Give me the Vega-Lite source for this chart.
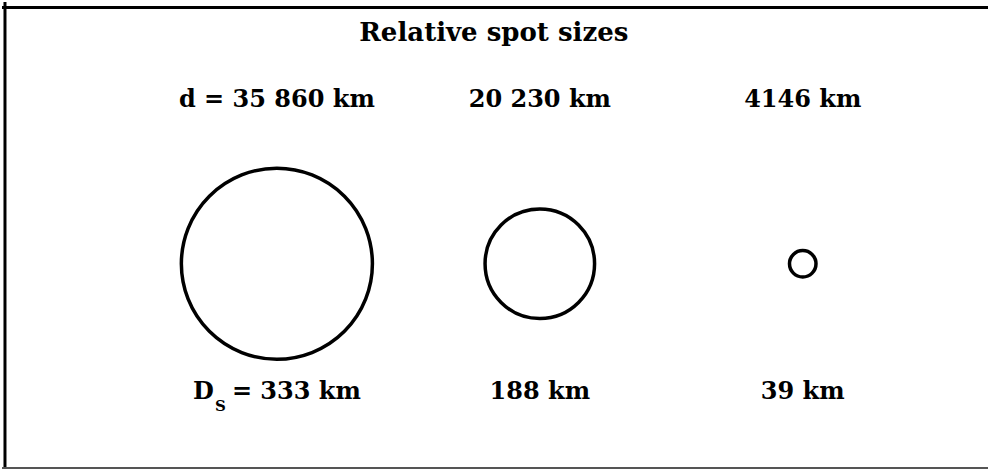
{
  "$schema": "https://vega.github.io/schema/vega-lite/v6.json",
  "width": 990,
  "height": 471,
  "autosize": {"type": "fit", "contains": "padding"},
  "padding": 0,
  "background": "white",
  "config": {"view": {"stroke": null}},
  "data": {
    "values": [
      {"spot": 1, "d": "d = 35 860 km", "Ds": 333, "lab": "= 333 km", "sym": "D", "sub": "S", "title": ""},
      {"spot": 2, "d": "20 230 km", "Ds": 188, "lab": "188 km", "sym": "", "sub": "", "title": "Relative spot sizes"},
      {"spot": 3, "d": "4146 km", "Ds": 39, "lab": "39 km", "sym": "", "sub": "", "title": ""}
    ]
  },
  "encoding": {
    "x": {"field": "spot", "type": "quantitative", "scale": {"domain": [-0.04545, 3.70455], "nice": false, "zero": false}, "axis": null},
    "y": {"datum": 264, "type": "quantitative", "scale": {"domain": [0, 471], "reverse": true, "nice": false, "zero": false}, "axis": null}
  },
  "layer": [
    {
      "mark": {"type": "point", "shape": "circle", "filled": false, "stroke": "black", "strokeWidth": 3.5, "opacity": 1},
      "encoding": {
        "size": {"field": "Ds", "type": "quantitative", "scale": {"domain": [39, 188, 333], "range": [702, 11990, 36500]}, "legend": null}
      }
    },
    {
      "mark": {"type": "text", "font": "DejaVu Serif", "fontSize": 24, "fontWeight": "bold", "color": "black", "baseline": "alphabetic", "align": "center"},
      "encoding": {"y": {"datum": 106, "type": "quantitative"}, "text": {"field": "d"}}
    },
    {
      "transform": [{"filter": "datum.spot > 1"}],
      "mark": {"type": "text", "font": "DejaVu Serif", "fontSize": 24, "fontWeight": "bold", "color": "black", "baseline": "alphabetic", "align": "center"},
      "encoding": {"y": {"datum": 400, "type": "quantitative"}, "text": {"field": "lab"}}
    },
    {
      "transform": [{"filter": "datum.spot == 1"}],
      "mark": {"type": "text", "font": "DejaVu Serif", "fontSize": 24, "fontWeight": "bold", "color": "black", "baseline": "alphabetic", "align": "left", "dx": -45},
      "encoding": {"y": {"datum": 400, "type": "quantitative"}, "text": {"field": "lab"}}
    },
    {
      "transform": [{"filter": "datum.spot == 1"}],
      "mark": {"type": "text", "font": "DejaVu Serif", "fontSize": 24, "fontWeight": "bold", "color": "black", "baseline": "alphabetic", "align": "left", "dx": -84},
      "encoding": {"y": {"datum": 400, "type": "quantitative"}, "text": {"field": "sym"}}
    },
    {
      "transform": [{"filter": "datum.spot == 1"}],
      "mark": {"type": "text", "font": "DejaVu Serif", "fontSize": 15, "fontWeight": "bold", "color": "black", "baseline": "alphabetic", "align": "left", "dx": -62},
      "encoding": {"y": {"datum": 413, "type": "quantitative"}, "text": {"field": "sub"}}
    },
    {
      "transform": [{"filter": "datum.spot == 2"}],
      "mark": {"type": "text", "font": "DejaVu Serif", "fontSize": 26, "fontWeight": "bold", "color": "black", "baseline": "alphabetic", "align": "center", "dx": -46},
      "encoding": {"y": {"datum": 39, "type": "quantitative"}, "text": {"field": "title"}}
    },
    {
      "transform": [{"filter": "datum.spot == 1"}],
      "mark": {"type": "rule", "color": "black", "strokeWidth": 3},
      "encoding": {"x": null, "y": {"datum": 5.5, "type": "quantitative"}}
    },
    {
      "transform": [{"filter": "datum.spot == 1"}],
      "mark": {"type": "rule", "color": "black", "strokeWidth": 3},
      "encoding": {"x": {"datum": -0.0341, "type": "quantitative"}, "y": null}
    },
    {
      "transform": [{"filter": "datum.spot == 1"}],
      "mark": {"type": "rule", "color": "#555555", "strokeWidth": 2},
      "encoding": {"x": null, "y": {"datum": 470, "type": "quantitative"}}
    }
  ]
}
